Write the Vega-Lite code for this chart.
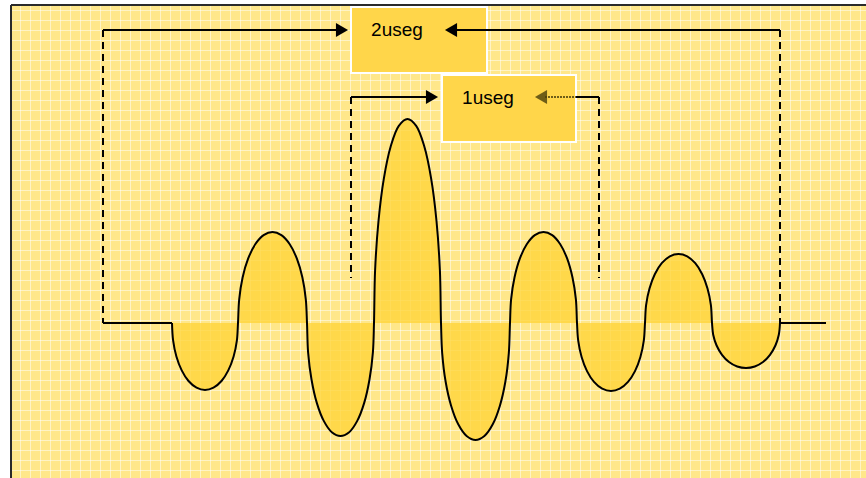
{
  "$schema": "https://vega.github.io/schema/vega-lite/v6.json",
  "width": 866,
  "height": 478,
  "padding": 0,
  "autosize": {"type": "none"},
  "background": "white",
  "config": {
    "view": {"stroke": null, "fill": "#FFE78A"},
    "axis": {"domain": false, "ticks": false, "labels": false, "title": null, "grid": true, "gridColor": "white", "gridOpacity": 0.5, "gridWidth": 1}
  },
  "datasets": {
    "wave": [
      {"x":172,"y":323},{"x":173.1,"y":340.4},{"x":176.4,"y":356.5},{"x":181.7,"y":370.4},{"x":188.5,"y":381},{"x":196.5,"y":387.7},{"x":205,"y":390},{"x":213.5,"y":387.7},{"x":221.5,"y":381},{"x":228.3,"y":370.4},{"x":233.6,"y":356.5},{"x":236.9,"y":340.4},{"x":238,"y":323},
      {"x":239.2,"y":299.4},{"x":242.6,"y":277.5},{"x":248.1,"y":258.7},{"x":255.25,"y":244.2},{"x":263.6,"y":235.1},{"x":272.5,"y":232},{"x":281.4,"y":235.1},{"x":289.75,"y":244.2},{"x":296.9,"y":258.7},{"x":302.4,"y":277.5},{"x":305.8,"y":299.4},{"x":307,"y":323},
      {"x":308.1,"y":352.3},{"x":311.5,"y":379.5},{"x":316.8,"y":402.9},{"x":323.75,"y":420.9},{"x":331.8,"y":432.2},{"x":340.5,"y":436},{"x":349.2,"y":432.2},{"x":357.25,"y":420.9},{"x":364.2,"y":402.9},{"x":369.5,"y":379.5},{"x":372.9,"y":352.3},{"x":374,"y":323},
      {"x":375.1,"y":270.2},{"x":378.5,"y":221},{"x":383.8,"y":178.8},{"x":390.75,"y":146.3},{"x":398.8,"y":125.9},{"x":407.5,"y":119},{"x":416.2,"y":125.9},{"x":424.25,"y":146.3},{"x":431.2,"y":178.8},{"x":436.5,"y":221},{"x":439.9,"y":270.2},{"x":441,"y":323},
      {"x":442.2,"y":353.3},{"x":445.6,"y":381.5},{"x":451.1,"y":405.7},{"x":458.25,"y":424.3},{"x":466.6,"y":436},{"x":475.5,"y":440},{"x":484.4,"y":436},{"x":492.75,"y":424.3},{"x":499.9,"y":405.7},{"x":505.4,"y":381.5},{"x":508.8,"y":353.3},{"x":510,"y":323},
      {"x":511.1,"y":299.4},{"x":514.5,"y":277.5},{"x":519.8,"y":258.7},{"x":526.75,"y":244.2},{"x":534.8,"y":235.1},{"x":543.5,"y":232},{"x":552.2,"y":235.1},{"x":560.25,"y":244.2},{"x":567.2,"y":258.7},{"x":572.5,"y":277.5},{"x":575.9,"y":299.4},{"x":577,"y":323},
      {"x":578.2,"y":340.6},{"x":581.6,"y":357},{"x":587,"y":371.1},{"x":594,"y":381.9},{"x":602.2,"y":388.7},{"x":611,"y":391},{"x":619.8,"y":388.7},{"x":628,"y":381.9},{"x":635,"y":371.1},{"x":640.4,"y":357},{"x":643.8,"y":340.6},{"x":645,"y":323},
      {"x":646.1,"y":305.1},{"x":649.5,"y":288.5},{"x":654.8,"y":274.2},{"x":661.75,"y":263.2},{"x":669.8,"y":256.3},{"x":678.5,"y":254},{"x":687.2,"y":256.3},{"x":695.25,"y":263.2},{"x":702.2,"y":274.2},{"x":707.5,"y":288.5},{"x":710.9,"y":305.1},{"x":712,"y":323},
      {"x":713.2,"y":334.7},{"x":716.6,"y":345.5},{"x":722,"y":354.8},{"x":729,"y":362},{"x":737.2,"y":366.5},{"x":746,"y":368},{"x":754.8,"y":366.5},{"x":763,"y":362},{"x":770,"y":354.8},{"x":775.4,"y":345.5},{"x":778.8,"y":334.7},{"x":780,"y":323}
    ]
  },
  "encoding": {
    "x": {"field": "x", "type": "quantitative", "scale": {"domain": [0, 866], "nice": false, "zero": false}, "axis": {"tickCount": 87, "orient": "bottom"}},
    "y": {"field": "y", "type": "quantitative", "scale": {"domain": [0, 478], "nice": false, "zero": false, "reverse": true}, "axis": {"tickCount": 48, "orient": "left"}}
  },
  "layer": [
    {
      "data": {"values": [{"x": 0, "x2": 11, "y": 0, "y2": 478}, {"x": 0, "x2": 866, "y": 0, "y2": 5}]},
      "mark": {"type": "rect", "fill": "white", "stroke": null},
      "encoding": {"x2": {"field": "x2"}, "y2": {"field": "y2"}}
    },
    {
      "data": {"values": [{"x": 11, "x2": 11, "y": 5, "y2": 478}, {"x": 11, "x2": 866, "y": 5, "y2": 5}]},
      "mark": {"type": "rule", "color": "#2a2a2a", "strokeWidth": 2},
      "encoding": {"x2": {"field": "x2"}, "y2": {"field": "y2"}}
    },
    {
      "data": {"name": "wave"},
      "mark": {"type": "area", "interpolate": "catmull-rom", "color": "#FFD438", "opacity": 0.78},
      "encoding": {"y2": {"datum": 323}}
    },
    {
      "data": {"name": "wave"},
      "mark": {"type": "line", "interpolate": "catmull-rom", "color": "black", "strokeWidth": 2}
    },
    {
      "data": {"values": [{"x": 351, "x2": 487, "y": 7, "y2": 73}, {"x": 442, "x2": 576, "y": 75, "y2": 142}]},
      "mark": {"type": "rect", "fill": "#FFD64A", "stroke": "white", "strokeWidth": 2},
      "encoding": {"x2": {"field": "x2"}, "y2": {"field": "y2"}}
    },
    {
      "data": {"values": [
        {"x": 103, "x2": 172, "y": 323, "y2": 323},
        {"x": 780, "x2": 826, "y": 323, "y2": 323},
        {"x": 103, "x2": 340, "y": 30, "y2": 30},
        {"x": 455, "x2": 780, "y": 30, "y2": 30},
        {"x": 351, "x2": 430, "y": 97, "y2": 97},
        {"x": 576, "x2": 599, "y": 97, "y2": 97}
      ]},
      "mark": {"type": "rule", "color": "black", "strokeWidth": 2},
      "encoding": {"x2": {"field": "x2"}, "y2": {"field": "y2"}}
    },
    {
      "data": {"values": [
        {"x": 103, "x2": 103, "y": 30, "y2": 323},
        {"x": 780, "x2": 780, "y": 30, "y2": 323},
        {"x": 351, "x2": 351, "y": 97, "y2": 278},
        {"x": 599, "x2": 599, "y": 97, "y2": 278}
      ]},
      "mark": {"type": "rule", "color": "black", "strokeWidth": 2, "strokeDash": [7, 5]},
      "encoding": {"x2": {"field": "x2"}, "y2": {"field": "y2"}}
    },
    {
      "data": {"values": [{"x": 342, "y": 30}, {"x": 432, "y": 97}]},
      "mark": {"type": "point", "shape": "triangle-right", "size": 196, "filled": true, "color": "black", "opacity": 1}
    },
    {
      "data": {"values": [{"x": 451, "y": 30}]},
      "mark": {"type": "point", "shape": "triangle-left", "size": 196, "filled": true, "color": "black", "opacity": 1}
    },
    {
      "data": {"values": [{"x": 545, "x2": 576, "y": 97, "y2": 97}]},
      "mark": {"type": "rule", "color": "#4A3E0A", "strokeWidth": 2, "strokeDash": [2, 1], "opacity": 0.8},
      "encoding": {"x2": {"field": "x2"}, "y2": {"field": "y2"}}
    },
    {
      "data": {"values": [{"x": 541, "y": 97}]},
      "mark": {"type": "point", "shape": "triangle-left", "size": 196, "filled": true, "color": "#4A3E0A", "opacity": 0.8}
    },
    {
      "data": {"values": [{"x": 397, "y": 30, "label": "2useg"}, {"x": 488, "y": 98, "label": "1useg"}]},
      "mark": {"type": "text", "font": "Liberation Sans", "fontSize": 19, "color": "black", "align": "center", "baseline": "middle"},
      "encoding": {"text": {"field": "label"}}
    }
  ]
}
